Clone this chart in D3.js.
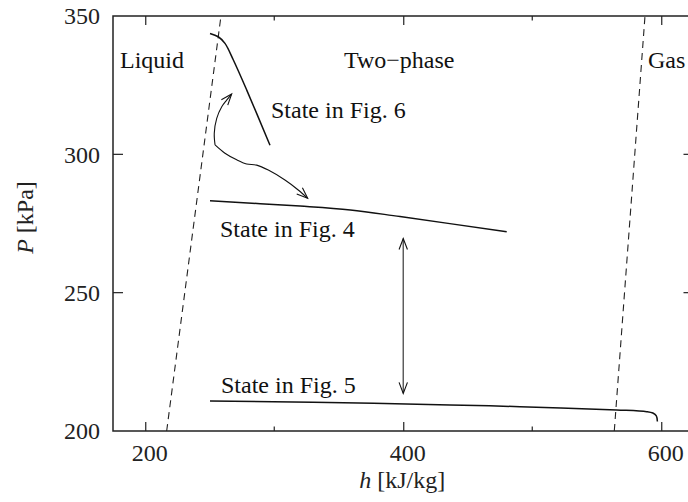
<!DOCTYPE html>
<html>
<head>
<meta charset="utf-8">
<script src="https://cdn.jsdelivr.net/npm/d3@7"></script>
<style>
  html, body { margin: 0; padding: 0; background: #fff; }
  svg { display: block; }
  text { font-family: "Liberation Serif", "Times New Roman", serif; fill: #111; }
</style>
</head>
<body>
<svg id="chart" width="688" height="502"></svg>
<script>
// Axis ticks
const hTickLabels = [200, 400, 600];
const hMinorTicks = [300, 500];
const pTickLabels = [200, 250, 300, 350];
const pTickMarks = [250, 300];

// Saturation boundaries (h in kJ/kg, P in kPa)
const liquidLineH = [216.6, 258.7];
const liquidLineP = [200, 350];
const gasLineH = [563.6, 587.4];
const gasLineP = [200, 350];

// Operating states
const fig6H = [250.2, 256.6, 261.8, 268.3, 278.6, 296.7];
const fig6P = [343.7, 342.5, 340.1, 334.1, 323.3, 303.3];
const fig4H = [250.2, 320.0, 359.0, 397.5, 480.2];
const fig4P = [283.2, 281.3, 279.9, 277.5, 272.0];
const fig5H = [250.2, 330.0, 436.2, 490.5, 565.5, 588.7, 593.5, 596.2, 597.0];
const fig5P = [210.8, 210.4, 209.4, 208.8, 207.6, 207.0, 206.5, 205.5, 203.4];

// Transition arrows
const upArrowH = [254.1, 253.5, 255.4, 259.3, 263.1, 267.0];
const upArrowP = [303.4, 307.6, 313.0, 317.2, 319.6, 321.8];
const downArrowH = [254.1, 261.8, 270.9, 278.6, 286.4, 295.4, 308.3, 318.6, 325.9];
const downArrowP = [303.4, 300.4, 298.0, 296.5, 296.1, 294.3, 290.7, 287.1, 284.1];
const gapArrowH = [400, 400];
const gapArrowP = [213.6, 269.6];

// Text
const regionLabels = ["Liquid", "Two\u2212phase", "Gas"];
const stateLabels = ["State in Fig. 6", "State in Fig. 4", "State in Fig. 5"];

const svg = d3.select("#chart");
const plotL = 113, plotT = 16, plotB = 431, plotR = 693.5;

const x = d3.scaleLinear().domain([175, 625]).range([plotL, plotR]);
const y = d3.scaleLinear().domain([200, 350]).range([plotB, plotT]);

const zip = (a, b) => a.map((v, i) => [v, b[i]]);
const line = d3.line().x(d => x(d[0])).y(d => y(d[1]));
const smooth = d3.line().x(d => x(d[0])).y(d => y(d[1])).curve(d3.curveCatmullRom.alpha(0.5));

// Arrowhead marker (open V)
const defs = svg.append("defs");
defs.append("marker")
  .attr("id", "head")
  .attr("markerUnits", "userSpaceOnUse")
  .attr("viewBox", "-12 -6 14 12")
  .attr("refX", 0).attr("refY", 0)
  .attr("markerWidth", 14).attr("markerHeight", 12)
  .attr("orient", "auto-start-reverse")
  .append("path")
  .attr("d", "M-11,-4.2 L0,0 L-11,4.2")
  .attr("fill", "none")
  .attr("stroke", "#111")
  .attr("stroke-width", 1.1);

// Frame
const frame = svg.append("g").attr("stroke", "#222").attr("stroke-width", 1.5).attr("fill", "none");
frame.append("path").attr("d", `M${plotR},${plotT}H${plotL}V${plotB}H${plotR}V${plotT}`);

// Bottom axis labels + major ticks
const xAxis = d3.axisBottom(x).tickValues(hTickLabels).tickSizeInner(-9).tickSizeOuter(0).tickPadding(13);
const gx = svg.append("g").attr("transform", `translate(0,${plotB})`).call(xAxis);
gx.select(".domain").remove();
gx.selectAll("line").attr("stroke", "#222").attr("stroke-width", 1.2);
gx.selectAll("text").attr("font-size", 24).attr("dx", 4).style("fill", "#222");

// Top major ticks
const xTop = d3.axisTop(x).tickValues(hTickLabels).tickSizeInner(-9).tickSizeOuter(0).tickFormat("");
const gxt = svg.append("g").attr("transform", `translate(0,${plotT})`).call(xTop);
gxt.select(".domain").remove();
gxt.selectAll("line").attr("stroke", "#222").attr("stroke-width", 1.2);

// Minor ticks on top and bottom
const minor = svg.append("g").attr("stroke", "#222").attr("stroke-width", 1.2);
hMinorTicks.forEach(v => {
  minor.append("line").attr("x1", x(v)).attr("x2", x(v)).attr("y1", plotB).attr("y2", plotB - 4.5);
  minor.append("line").attr("x1", x(v)).attr("x2", x(v)).attr("y1", plotT).attr("y2", plotT + 4.5);
});

// Left axis labels
const yAxis = d3.axisLeft(y).tickValues(pTickLabels).tickSize(0).tickPadding(13);
const gy = svg.append("g").attr("transform", `translate(${plotL},0)`).call(yAxis);
gy.select(".domain").remove();
gy.selectAll("text").attr("font-size", 24).style("fill", "#222");

// Left and right tick marks
const ytm = svg.append("g").attr("stroke", "#222").attr("stroke-width", 1.2);
pTickMarks.forEach(v => {
  ytm.append("line").attr("x1", plotL).attr("x2", plotL + 10).attr("y1", y(v)).attr("y2", y(v));
  ytm.append("line").attr("x1", plotR).attr("x2", plotR - 10).attr("y1", y(v)).attr("y2", y(v));
});

// Axis titles
const xt = svg.append("text").attr("x", x(400) - 1).attr("y", 488)
  .attr("text-anchor", "middle").attr("font-size", 24).style("fill", "#222");
xt.append("tspan").attr("font-style", "italic").text("h");
xt.append("tspan").text(" [kJ/kg]");

const yt = svg.append("text")
  .attr("transform", `translate(33,${(plotT + plotB) / 2 - 6}) rotate(-90)`)
  .attr("text-anchor", "middle").attr("font-size", 24).style("fill", "#222");
yt.append("tspan").attr("font-style", "italic").text("P");
yt.append("tspan").text(" [kPa]");

// Saturation lines (dashed)
const sat = svg.append("g").attr("fill", "none").attr("stroke", "#222")
  .attr("stroke-width", 1.1).attr("stroke-dasharray", "7,5");
sat.append("path").attr("d", line(zip(liquidLineH, liquidLineP)));
sat.append("path").attr("d", line(zip(gasLineH, gasLineP)));

// State curves
const curves = svg.append("g").attr("fill", "none").attr("stroke", "#111").attr("stroke-width", 1.5);
curves.append("path").attr("d", smooth(zip(fig6H, fig6P)));
curves.append("path").attr("d", smooth(zip(fig4H, fig4P)));
curves.append("path").attr("d", smooth(zip(fig5H, fig5P)));

// Transition arrows
const arrows = svg.append("g").attr("fill", "none").attr("stroke", "#111").attr("stroke-width", 1.1);
arrows.append("path").attr("d", smooth(zip(upArrowH, upArrowP))).attr("marker-end", "url(#head)");
arrows.append("path").attr("d", smooth(zip(downArrowH, downArrowP))).attr("marker-end", "url(#head)");
arrows.append("path").attr("d", line(zip(gapArrowH, gapArrowP)))
  .attr("stroke", "#555").attr("stroke-width", 1.4)
  .attr("marker-start", "url(#head)").attr("marker-end", "url(#head)");

// Region labels
const labels = svg.append("g").attr("font-size", 24);
labels.append("text").attr("x", plotL + 7).attr("y", 68).text(regionLabels[0]);
labels.append("text").attr("x", x(400) - 4).attr("y", 68).attr("text-anchor", "middle").text(regionLabels[1]);
labels.append("text").attr("x", 648).attr("y", 68).text(regionLabels[2]);

// State labels
labels.append("text").attr("x", 271).attr("y", 118).text(stateLabels[0]);
labels.append("text").attr("x", 220).attr("y", 237).text(stateLabels[1]);
labels.append("text").attr("x", 221).attr("y", 393).text(stateLabels[2]);
</script>
</body>
</html>
